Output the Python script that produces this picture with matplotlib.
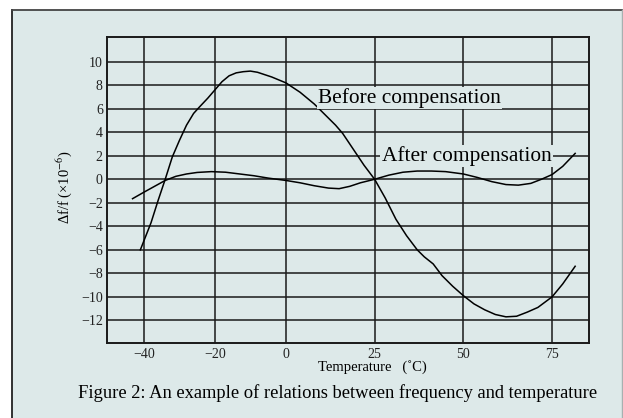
import numpy as np
import matplotlib
matplotlib.use("Agg")
import matplotlib.pyplot as plt
from matplotlib.patches import Rectangle

plt.rcParams['font.family'] = ['Liberation Serif', 'DejaVu Serif']
plt.rcParams['mathtext.fontset'] = 'stix'

# data
before_temp = [-41, -38, -36, -34, -32, -30, -28, -26, -24.5, -22, -20, -18, -16, -14, -12, -10,
               -8, -6, -4, -2, 0, 2, 4, 6, 8, 10, 12, 14, 16, 18, 20, 22, 25, 28, 31, 34, 37,
               39, 41.5, 44, 47, 50, 53, 56, 59, 62, 65, 68, 71, 75, 78, 81.5]
before_val = [-6.0, -3.7, -1.8, 0.0, 1.9, 3.3, 4.6, 5.6, 6.1, 6.9, 7.6, 8.3, 8.8, 9.05, 9.15, 9.2,
              9.1, 8.9, 8.7, 8.45, 8.2, 7.8, 7.4, 6.9, 6.4, 5.8, 5.2, 4.6, 3.9, 3.0, 2.1, 1.2, 0.0,
              -1.6, -3.4, -4.8, -6.0, -6.6, -7.2, -8.2, -9.1, -9.9, -10.6, -11.1, -11.5, -11.7,
              -11.65, -11.3, -10.9, -10.0, -8.9, -7.4]

after_temp = [-43.2, -40, -37, -34, -31, -28, -25, -21, -17, -13, -9, -5, 0, 4, 8, 12, 15, 18,
              21, 25, 29, 33, 37, 41, 45, 50, 54, 58, 62, 65.5, 69, 72, 75, 78, 81.5]
after_val = [-1.65, -1.1, -0.6, -0.1, 0.25, 0.45, 0.58, 0.65, 0.6, 0.45, 0.3, 0.1, -0.1, -0.3,
             -0.55, -0.75, -0.8, -0.6, -0.3, 0.0, 0.35, 0.6, 0.7, 0.7, 0.65, 0.45, 0.15, -0.2,
             -0.45, -0.5, -0.35, 0.0, 0.4, 1.1, 2.2]

x_ticks = [-40, -20, 0, 25, 50, 75]
y_ticks = [10, 8, 6, 4, 2, 0, -2, -4, -6, -8, -10, -12]

bg = '#dde9e9'

fig = plt.figure(figsize=(6.23, 4.18), dpi=100)
fig.patch.set_facecolor('white')

# outer panel
W, H = 623.0, 418.0
panel = Rectangle((12 / W, 0), (621.5 - 12) / W, (H - 10) / H, transform=fig.transFigure,
                  facecolor=bg, edgecolor='none', zorder=-10)
fig.patches.append(panel)
fig.lines.append(plt.Line2D([12 / W, 12 / W], [0, 1 - 10 / H], transform=fig.transFigure,
                            color='#222222', lw=1.3, zorder=-5))
fig.lines.append(plt.Line2D([12 / W, 621.5 / W], [1 - 10 / H, 1 - 10 / H], transform=fig.transFigure,
                            color='#444444', lw=1.3, zorder=-5))
fig.lines.append(plt.Line2D([621.5 / W, 621.5 / W], [0, 1 - 10 / H], transform=fig.transFigure,
                            color='#a8b0b0', lw=1.0, zorder=-5))

ax = fig.add_axes([107 / W, 1 - 342.7 / H, (589 - 107) / W, (342.7 - 37) / H])
ax.set_zorder(1)
ax.set_facecolor(bg)
ax.set_xlim(-50.4, 85.4)
ax.set_ylim(-13.9, 12.1)

ax.set_xticks(x_ticks)
ax.set_yticks(y_ticks)
ax.set_xticklabels([str(t).replace('-', '\u2212') for t in x_ticks], fontsize=10)
ax.set_yticklabels([str(t).replace('-', '\u2212') for t in y_ticks], fontsize=10)
ax.tick_params(axis='y', length=0, pad=3, colors='#222222')
ax.tick_params(axis='x', length=0, pad=4, colors='#222222')
ax.grid(True, color='#1a1a1a', lw=1.1)
ax.set_axisbelow(True)
for s in ax.spines.values():
    s.set_color('#1a1a1a')
    s.set_linewidth(1.4)

ax.plot(before_temp, before_val, color='black', lw=1.1, zorder=3)
ax.plot(after_temp, after_val, color='black', lw=1.1, zorder=3)

ax.text(9.0, 6.9, 'Before compensation', fontsize=15.4, va='center', ha='left', zorder=4,
        bbox=dict(facecolor=bg, edgecolor='none', pad=1))
ax.text(27.0, 2.0, 'After compensation', fontsize=15.4, va='center', ha='left', zorder=4,
        bbox=dict(facecolor=bg, edgecolor='none', pad=1))

ax.set_xlabel('Temperature   (\u02daC)', fontsize=10.5)
ax.xaxis.label.set_va('center')
ax.xaxis.set_label_coords((372 - 107) / 482, (342.7 - 367) / 305.7)
ax.set_ylabel('\u0394f/f (\u00d710$^{-6}$)', fontsize=10.5)
ax.yaxis.label.set_va('center')
ax.yaxis.set_label_coords((63.6 - 107) / 482, (342.7 - 187) / 305.7)

fig.text(0.5 * (79.5 + 596) / W, 1 - 393 / H,
         'Figure 2: An example of relations between frequency and temperature',
         fontsize=13.3, ha='center', va='center')

fig.savefig('out.png', dpi=100)
